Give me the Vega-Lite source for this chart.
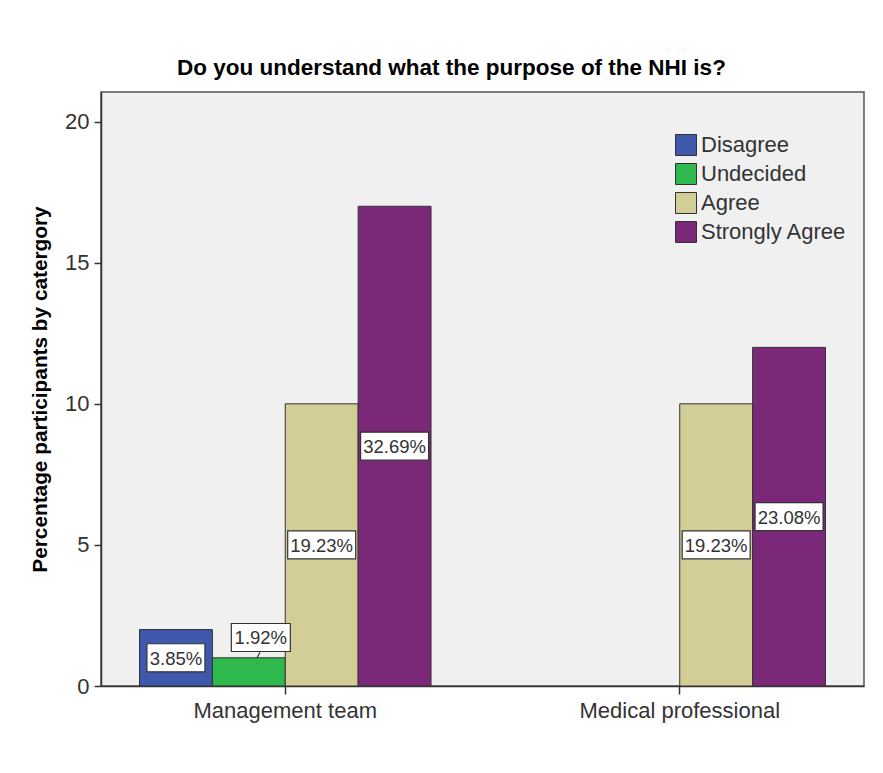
{
  "$schema": "https://vega.github.io/schema/vega-lite/v6.json",
  "width": 763,
  "height": 594,
  "autosize": {"type": "none"},
  "padding": {"left": 101, "top": 92, "right": 19, "bottom": 87},
  "background": "white",
  "title": {
    "text": "Do you understand what the purpose of the NHI is?",
    "font": "Liberation Sans",
    "fontSize": 22.5,
    "fontWeight": "bold",
    "color": "#000000",
    "anchor": "middle",
    "dx": -31,
    "offset": 13
  },
  "config": {
    "view": {"fill": "#f0f0f0", "stroke": "#555555", "strokeWidth": 1.5},
    "font": "Liberation Sans",
    "axis": {"grid": false, "domainColor": "#333333", "domainWidth": 1.5, "tickColor": "#333333", "tickWidth": 1.5, "labelColor": "#333333", "labelFont": "Liberation Sans", "labelFontSize": 22, "labelLimit": 0}
  },
  "data": {
    "values": [
      {"group": "Management team", "response": "Disagree", "count": 2, "label": "3.85%"},
      {"group": "Management team", "response": "Undecided", "count": 1, "label": "1.92%"},
      {"group": "Management team", "response": "Agree", "count": 10, "label": "19.23%"},
      {"group": "Management team", "response": "Strongly Agree", "count": 17, "label": "32.69%"},
      {"group": "Medical professional", "response": "Agree", "count": 10, "label": "19.23%"},
      {"group": "Medical professional", "response": "Strongly Agree", "count": 12, "label": "23.08%"}
    ]
  },
  "encoding": {
    "x": {
      "field": "group",
      "type": "nominal",
      "sort": ["Management team", "Medical professional"],
      "scale": {"paddingInner": 0.261, "paddingOuter": 0.0976},
      "axis": {"title": null, "labelAngle": 0, "tickSize": 8, "labelPadding": 6}
    },
    "xOffset": {
      "field": "response",
      "type": "nominal",
      "sort": ["Disagree", "Undecided", "Agree", "Strongly Agree"],
      "scale": {"domain": ["Disagree", "Undecided", "Agree", "Strongly Agree"], "paddingInner": 0, "paddingOuter": 0}
    }
  },
  "layer": [
    {
      "mark": {"type": "bar", "stroke": "#333333", "strokeWidth": 1},
      "encoding": {
        "y": {
          "field": "count",
          "type": "quantitative",
          "scale": {"domain": [0, 21.05], "nice": false},
          "axis": {
            "values": [0, 5, 10, 15, 20],
            "title": "Percentage participants by catergory",
            "titleFont": "Liberation Sans",
            "titleFontSize": 20.8,
            "titleFontWeight": "bold",
            "titleColor": "#000000",
            "titleX": -61,
            "titleY": 297,
            "titleAlign": "center",
            "titleBaseline": "middle",
            "tickSize": 7,
            "labelPadding": 5
          }
        },
        "color": {
          "field": "response",
          "type": "nominal",
          "scale": {
            "domain": ["Disagree", "Undecided", "Agree", "Strongly Agree"],
            "range": ["#3e58ac", "#2fb84b", "#d3ce97", "#7b2878"]
          },
          "legend": {
            "title": null,
            "orient": "none",
            "legendX": 574,
            "legendY": 42,
            "padding": 0,
            "symbolType": "square",
            "symbolSize": 441,
            "symbolStrokeColor": "#333333",
            "symbolStrokeWidth": 1,
            "symbolOpacity": 1,
            "labelFont": "Liberation Sans",
            "labelFontSize": 22,
            "labelColor": "#333333",
            "labelOffset": 4,
            "rowPadding": 3
          }
        }
      }
    },
    {
      "encoding": {
        "y": {
          "field": "count",
          "type": "quantitative",
          "scale": {"domain": [0, 42.1], "nice": false},
          "axis": null
        }
      },
      "layer": [
        {
          "transform": [{"filter": "datum.response == 'Agree' || datum.response == 'Strongly Agree'"}],
          "mark": {"type": "point", "shape": "M-1,-0.412H1V0.412H-1Z", "size": 4624, "filled": true, "fill": "white", "fillOpacity": 1, "stroke": "#333333", "strokeWidth": 1.2, "opacity": 1}
        },
        {
          "transform": [{"filter": "datum.response == 'Agree' || datum.response == 'Strongly Agree'"}],
          "mark": {"type": "text", "fontSize": 18.5, "color": "#333333", "align": "center", "baseline": "middle", "dy": 1},
          "encoding": {"text": {"field": "label"}}
        },
        {
          "transform": [{"filter": "datum.response == 'Disagree'"}],
          "mark": {"type": "point", "shape": "M-1,-0.483H1V0.483H-1Z", "size": 3364, "filled": true, "fill": "white", "fillOpacity": 1, "stroke": "#333333", "strokeWidth": 1.2, "opacity": 1}
        },
        {
          "transform": [{"filter": "datum.response == 'Disagree'"}],
          "mark": {"type": "text", "fontSize": 18.5, "color": "#333333", "align": "center", "baseline": "middle", "dy": 1},
          "encoding": {"text": {"field": "label"}}
        },
        {
          "transform": [{"filter": "datum.response == 'Undecided'"}],
          "mark": {"type": "point", "shape": "M-0.593,-1.641H1.407V-0.692H-0.593ZM0.278,-0.481L0.38,-0.664", "size": 3481, "filled": true, "fill": "white", "fillOpacity": 1, "stroke": "#333333", "strokeWidth": 1.2, "opacity": 1}
        },
        {
          "transform": [{"filter": "datum.response == 'Undecided'"}],
          "mark": {"type": "text", "fontSize": 18.5, "color": "#333333", "align": "center", "baseline": "middle", "dx": 12, "dy": -34},
          "encoding": {"text": {"field": "label"}}
        }
      ]
    }
  ],
  "resolve": {"scale": {"y": "independent"}}
}
